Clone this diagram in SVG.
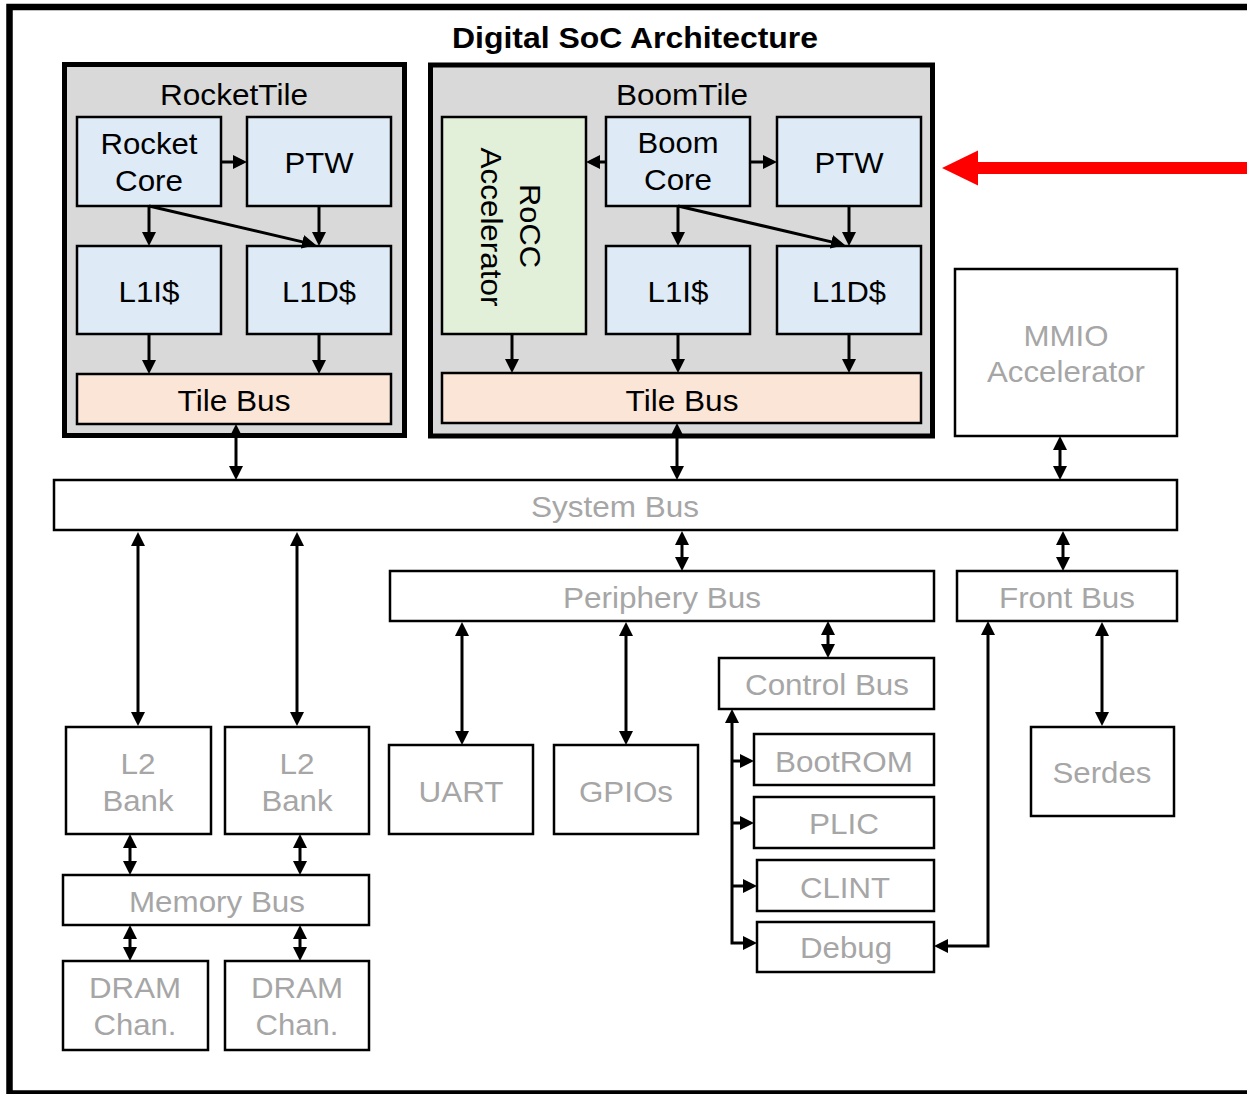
<svg xmlns="http://www.w3.org/2000/svg" width="1247" height="1094" viewBox="0 0 1247 1094">
<style>
.box{stroke:#000;stroke-width:2.5;fill:#fff}
.tile{fill:#d9d9d9;stroke:#000;stroke-width:5}
.blue{fill:#deebf7}
.green{fill:#e2f0d9}
.orange{fill:#fbe5d6}
.t{font-family:"Liberation Sans",Arial,sans-serif;font-size:29.5px;text-anchor:middle;fill:#000}
.g{fill:#a6a6a6}
.c{stroke:#000;stroke-width:3;fill:none}
</style>
<defs>
<marker id="ah" markerUnits="userSpaceOnUse" markerWidth="14" markerHeight="14" viewBox="0 0 14 14" refX="10" refY="7" orient="auto-start-reverse"><path d="M0,0 L14,7 L0,14 z" fill="#000"/></marker>
</defs>
<rect x="0" y="0" width="1247" height="1094" fill="#fff"/>
<rect x="9.5" y="7" width="1260" height="1086.5" fill="none" stroke="#000" stroke-width="6.5"/>
<text class="t" x="635" y="48" font-weight="bold" font-size="30" textLength="366" lengthAdjust="spacingAndGlyphs" style="font-size:30px">Digital SoC Architecture</text>

<g id="rocket-tile">
<rect class="tile" x="64.5" y="64.5" width="340" height="371"/>
<text class="t" x="234" y="105" textLength="148" lengthAdjust="spacingAndGlyphs">RocketTile</text>
</g>
<g id="rocket-core"><rect class="box blue" x="77" y="117" width="144" height="89"/>
<text class="t" x="149" y="154" textLength="97" lengthAdjust="spacingAndGlyphs">Rocket</text>
<text class="t" x="149" y="191" textLength="68" lengthAdjust="spacingAndGlyphs">Core</text></g>
<g id="rocket-ptw"><rect class="box blue" x="247" y="117" width="144" height="89"/>
<text class="t" x="319" y="173" textLength="69" lengthAdjust="spacingAndGlyphs">PTW</text></g>
<g id="rocket-l1i"><rect class="box blue" x="77" y="246" width="144" height="88"/>
<text class="t" x="149" y="302" textLength="61" lengthAdjust="spacingAndGlyphs">L1I$</text></g>
<g id="rocket-l1d"><rect class="box blue" x="247" y="246" width="144" height="88"/>
<text class="t" x="319" y="302" textLength="74" lengthAdjust="spacingAndGlyphs">L1D$</text></g>
<g id="rocket-tilebus"><rect class="box orange" x="77" y="374" width="314" height="50"/>
<text class="t" x="234" y="411" textLength="113" lengthAdjust="spacingAndGlyphs">Tile Bus</text></g>

<g id="boom-tile">
<rect class="tile" x="430.5" y="65" width="502" height="371"/>
<text class="t" x="682" y="105" textLength="132" lengthAdjust="spacingAndGlyphs">BoomTile</text>
</g>
<g id="rocc"><rect class="box green" x="442" y="117" width="144" height="217"/>
<text class="t" transform="translate(520,226) rotate(90)" x="0" y="0" textLength="84" lengthAdjust="spacingAndGlyphs">RoCC</text>
<text class="t" transform="translate(481,227) rotate(90)" x="0" y="0" textLength="159" lengthAdjust="spacingAndGlyphs">Accelerator</text></g>
<g id="boom-core"><rect class="box blue" x="606" y="117" width="144" height="89"/>
<text class="t" x="678" y="153" textLength="81" lengthAdjust="spacingAndGlyphs">Boom</text>
<text class="t" x="678" y="190" textLength="68" lengthAdjust="spacingAndGlyphs">Core</text></g>
<g id="boom-ptw"><rect class="box blue" x="777" y="117" width="144" height="89"/>
<text class="t" x="849" y="173" textLength="69" lengthAdjust="spacingAndGlyphs">PTW</text></g>
<g id="boom-l1i"><rect class="box blue" x="606" y="246" width="144" height="88"/>
<text class="t" x="678" y="302" textLength="61" lengthAdjust="spacingAndGlyphs">L1I$</text></g>
<g id="boom-l1d"><rect class="box blue" x="777" y="246" width="144" height="88"/>
<text class="t" x="849" y="302" textLength="74" lengthAdjust="spacingAndGlyphs">L1D$</text></g>
<g id="boom-tilebus"><rect class="box orange" x="442" y="373" width="479" height="50"/>
<text class="t" x="682" y="411" textLength="113" lengthAdjust="spacingAndGlyphs">Tile Bus</text></g>

<g id="mmio"><rect class="box" x="955" y="269" width="222" height="167"/>
<text class="t g" x="1066" y="346" textLength="85" lengthAdjust="spacingAndGlyphs">MMIO</text>
<text class="t g" x="1066" y="382" textLength="158" lengthAdjust="spacingAndGlyphs">Accelerator</text></g>
<g id="system-bus"><rect class="box" x="54" y="480" width="1123" height="50"/>
<text class="t g" x="615" y="517" textLength="168" lengthAdjust="spacingAndGlyphs">System Bus</text></g>
<g id="periphery-bus"><rect class="box" x="390" y="571" width="544" height="50"/>
<text class="t g" x="662" y="608" textLength="198" lengthAdjust="spacingAndGlyphs">Periphery Bus</text></g>
<g id="front-bus"><rect class="box" x="957" y="571" width="220" height="50"/>
<text class="t g" x="1067" y="608" textLength="136" lengthAdjust="spacingAndGlyphs">Front Bus</text></g>
<g id="control-bus"><rect class="box" x="719" y="658" width="215" height="51"/>
<text class="t g" x="827" y="695" textLength="164" lengthAdjust="spacingAndGlyphs">Control Bus</text></g>
<g id="bootrom"><rect class="box" x="754" y="734" width="180" height="51"/>
<text class="t g" x="844" y="772" textLength="138" lengthAdjust="spacingAndGlyphs">BootROM</text></g>
<g id="plic"><rect class="box" x="754" y="797" width="180" height="51"/>
<text class="t g" x="844" y="834" textLength="70" lengthAdjust="spacingAndGlyphs">PLIC</text></g>
<g id="clint"><rect class="box" x="757" y="860" width="177" height="51"/>
<text class="t g" x="845" y="898" textLength="90" lengthAdjust="spacingAndGlyphs">CLINT</text></g>
<g id="debug"><rect class="box" x="757" y="922" width="177" height="50"/>
<text class="t g" x="846" y="958" textLength="92" lengthAdjust="spacingAndGlyphs">Debug</text></g>
<g id="uart"><rect class="box" x="389" y="745" width="144" height="89"/>
<text class="t g" x="461" y="802" textLength="85" lengthAdjust="spacingAndGlyphs">UART</text></g>
<g id="gpios"><rect class="box" x="554" y="745" width="144" height="89"/>
<text class="t g" x="626" y="802" textLength="94" lengthAdjust="spacingAndGlyphs">GPIOs</text></g>
<g id="serdes"><rect class="box" x="1031" y="727" width="143" height="89"/>
<text class="t g" x="1102" y="783" textLength="99" lengthAdjust="spacingAndGlyphs">Serdes</text></g>
<g id="l2-bank-0"><rect class="box" x="66" y="727" width="145" height="107"/>
<text class="t g" x="138" y="774" textLength="35" lengthAdjust="spacingAndGlyphs">L2</text>
<text class="t g" x="138" y="811" textLength="71" lengthAdjust="spacingAndGlyphs">Bank</text></g>
<g id="l2-bank-1"><rect class="box" x="225" y="727" width="144" height="107"/>
<text class="t g" x="297" y="774" textLength="35" lengthAdjust="spacingAndGlyphs">L2</text>
<text class="t g" x="297" y="811" textLength="71" lengthAdjust="spacingAndGlyphs">Bank</text></g>
<g id="memory-bus"><rect class="box" x="63" y="875" width="306" height="50"/>
<text class="t g" x="217" y="912" textLength="176" lengthAdjust="spacingAndGlyphs">Memory Bus</text></g>
<g id="dram-0"><rect class="box" x="63" y="961" width="145" height="89"/>
<text class="t g" x="135" y="998" textLength="92" lengthAdjust="spacingAndGlyphs">DRAM</text>
<text class="t g" x="135" y="1035" textLength="83" lengthAdjust="spacingAndGlyphs">Chan.</text></g>
<g id="dram-1"><rect class="box" x="225" y="961" width="144" height="89"/>
<text class="t g" x="297" y="998" textLength="92" lengthAdjust="spacingAndGlyphs">DRAM</text>
<text class="t g" x="297" y="1035" textLength="83" lengthAdjust="spacingAndGlyphs">Chan.</text></g>

<g id="connectors">
<line class="c" x1="221" y1="162" x2="243" y2="162" marker-end="url(#ah)"/>
<line class="c" x1="149" y1="206" x2="149" y2="242" marker-end="url(#ah)"/>
<line class="c" x1="149" y1="206" x2="312.1" y2="244.1" marker-end="url(#ah)"/>
<line class="c" x1="319" y1="206" x2="319" y2="242" marker-end="url(#ah)"/>
<line class="c" x1="149" y1="334" x2="149" y2="370" marker-end="url(#ah)"/>
<line class="c" x1="319" y1="334" x2="319" y2="370" marker-end="url(#ah)"/>
<line class="c" x1="236" y1="428" x2="236" y2="476" marker-start="url(#ah)" marker-end="url(#ah)"/>
<line class="c" x1="606" y1="162" x2="590" y2="162" marker-end="url(#ah)"/>
<line class="c" x1="750" y1="162" x2="773" y2="162" marker-end="url(#ah)"/>
<line class="c" x1="678" y1="206" x2="678" y2="242" marker-end="url(#ah)"/>
<line class="c" x1="678" y1="206" x2="841.1" y2="244.1" marker-end="url(#ah)"/>
<line class="c" x1="849" y1="206" x2="849" y2="242" marker-end="url(#ah)"/>
<line class="c" x1="512" y1="334" x2="512" y2="369" marker-end="url(#ah)"/>
<line class="c" x1="678" y1="334" x2="678" y2="369" marker-end="url(#ah)"/>
<line class="c" x1="849" y1="334" x2="849" y2="369" marker-end="url(#ah)"/>
<line class="c" x1="677" y1="427" x2="677" y2="476" marker-start="url(#ah)" marker-end="url(#ah)"/>
<line class="c" x1="1060" y1="440" x2="1060" y2="476" marker-start="url(#ah)" marker-end="url(#ah)"/>
<line class="c" x1="138" y1="536" x2="138" y2="722" marker-start="url(#ah)" marker-end="url(#ah)"/>
<line class="c" x1="297" y1="536" x2="297" y2="722" marker-start="url(#ah)" marker-end="url(#ah)"/>
<line class="c" x1="682" y1="535" x2="682" y2="567" marker-start="url(#ah)" marker-end="url(#ah)"/>
<line class="c" x1="1063" y1="535" x2="1063" y2="567" marker-start="url(#ah)" marker-end="url(#ah)"/>
<line class="c" x1="462" y1="626" x2="462" y2="741" marker-start="url(#ah)" marker-end="url(#ah)"/>
<line class="c" x1="626" y1="626" x2="626" y2="741" marker-start="url(#ah)" marker-end="url(#ah)"/>
<line class="c" x1="828" y1="625" x2="828" y2="654" marker-start="url(#ah)" marker-end="url(#ah)"/>
<line class="c" x1="1102" y1="626" x2="1102" y2="722" marker-start="url(#ah)" marker-end="url(#ah)"/>
<path class="c" d="M988,625 V946 H938" marker-start="url(#ah)" marker-end="url(#ah)"/>
<path class="c" d="M732,713 V943 H753" marker-start="url(#ah)" marker-end="url(#ah)"/>
<line class="c" x1="732" y1="761" x2="750" y2="761" marker-end="url(#ah)"/>
<line class="c" x1="732" y1="823" x2="750" y2="823" marker-end="url(#ah)"/>
<line class="c" x1="732" y1="886" x2="753" y2="886" marker-end="url(#ah)"/>
<line class="c" x1="130" y1="838" x2="130" y2="871" marker-start="url(#ah)" marker-end="url(#ah)"/>
<line class="c" x1="300" y1="838" x2="300" y2="871" marker-start="url(#ah)" marker-end="url(#ah)"/>
<line class="c" x1="130" y1="929" x2="130" y2="957" marker-start="url(#ah)" marker-end="url(#ah)"/>
<line class="c" x1="300" y1="929" x2="300" y2="957" marker-start="url(#ah)" marker-end="url(#ah)"/>
<polygon points="942,168 978,150.5 978,162 1250,162 1250,174 978,174 978,185.5" fill="#ff0000"/>
</g>
</svg>
